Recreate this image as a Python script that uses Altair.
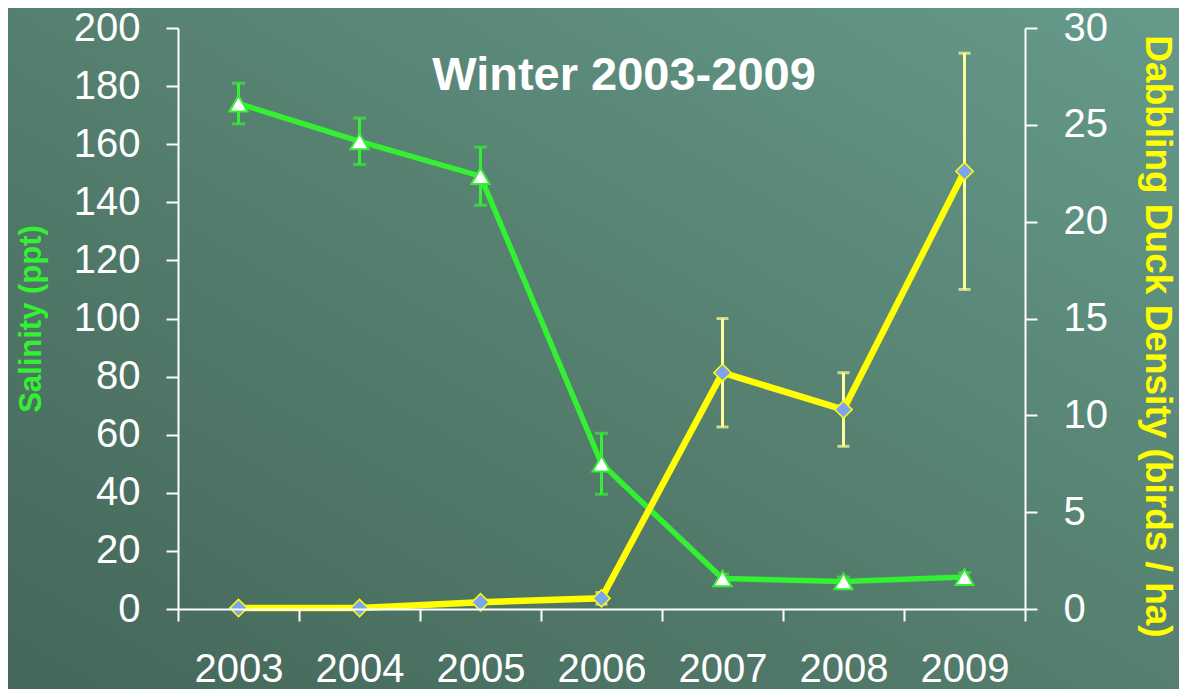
import altair as alt
import pandas as pd

years = ["2003", "2004", "2005", "2006", "2007", "2008", "2009"]
salinity = [174, 161, 149, 50, 10.5, 9.5, 11]
salinity_err = [7, 8, 10, 10.5, 1.5, 1.5, 1.5]
duck = [0.05, 0.05, 0.35, 0.55, 12.2, 10.3, 22.6]
duck_err = [0, 0, 0, 0.3, 2.8, 1.9, 6.1]

W, H = 847, 581
PAD = {"left": 170, "top": 20, "right": 154, "bottom": 80}

df = pd.DataFrame({
    "year": years,
    "sal": salinity,
    "sal_lo": [s - e for s, e in zip(salinity, salinity_err)],
    "sal_hi": [s + e for s, e in zip(salinity, salinity_err)],
    "duck": duck,
    "duck_lo": [max(d - e, 0) for d, e in zip(duck, duck_err)],
    "duck_hi": [d + e for d, e in zip(duck, duck_err)],
})

GREEN = "#33f033"
YELLOW = "#ffff00"
PALE = "#ffff99"

xenc = alt.X("year:O", sort=years, title=None,
             scale=alt.Scale(paddingInner=0, paddingOuter=0),
             axis=alt.Axis(labelAngle=0, tickBand="extent", labelPadding=28,
                           labelFontSize=40, labelFont="Liberation Sans", zindex=2))

sal_scale = alt.Scale(domain=[0, 200], nice=False)
sal_axis = alt.Axis(orient="left", values=list(range(0, 201, 20)),
                    title="Salinity (ppt)", titleColor=GREEN, titleFontSize=31,
                    titleFontWeight="bold", titlePadding=26, labelPadding=26, zindex=2)
duck_scale = alt.Scale(domain=[0, 30], nice=False)
duck_axis = alt.Axis(orient="right", values=list(range(0, 31, 5)),
                     title="Dabbling Duck Density (birds / ha)", titleColor=YELLOW,
                     titleFontSize=37, titleFontWeight="bold", titlePadding=30,
                     titleY=308, labelPadding=26, zindex=2)

base = alt.Chart(df)

bg = alt.Chart(pd.DataFrame({"a": [0]})).mark_rect(
    color=alt.LinearGradient(
        gradient="linear",
        stops=[alt.GradientStop(color="#44675a", offset=0),
               alt.GradientStop(color="#557f6f", offset=0.5),
               alt.GradientStop(color="#659a8a", offset=1)],
        x1=0, y1=1, x2=1, y2=0)
).encode(
    x=alt.value(-PAD["left"]), x2=alt.value(W + PAD["right"]),
    y=alt.value(-PAD["top"]), y2=alt.value(H + PAD["bottom"])
)

sal_line = base.mark_line(color=GREEN, strokeWidth=5.5).encode(
    x=xenc, y=alt.Y("sal:Q", scale=sal_scale, axis=sal_axis))
sal_rule = base.mark_rule(color=GREEN, strokeWidth=3).encode(
    x=xenc, y=alt.Y("sal_lo:Q", scale=sal_scale, axis=sal_axis), y2="sal_hi:Q")
sal_cap_hi = base.mark_tick(color=GREEN, size=13, thickness=3, orient="horizontal").encode(
    x=xenc, y=alt.Y("sal_hi:Q", scale=sal_scale, axis=sal_axis))
sal_cap_lo = base.mark_tick(color=GREEN, size=13, thickness=3, orient="horizontal").encode(
    x=xenc, y=alt.Y("sal_lo:Q", scale=sal_scale, axis=sal_axis))
sal_pts = base.mark_point(shape="triangle-up", size=330, filled=True, fill="white",
                          stroke=GREEN, strokeWidth=2, opacity=1).encode(
    x=xenc, y=alt.Y("sal:Q", scale=sal_scale, axis=sal_axis))
sal_layer = alt.layer(sal_rule, sal_cap_hi, sal_cap_lo, sal_line, sal_pts)

duck_line = base.mark_line(color=YELLOW, strokeWidth=6.5).encode(
    x=xenc, y=alt.Y("duck:Q", scale=duck_scale, axis=duck_axis))
duck_rule = base.mark_rule(color=PALE, strokeWidth=3).encode(
    x=xenc, y=alt.Y("duck_lo:Q", scale=duck_scale, axis=duck_axis), y2="duck_hi:Q")
duck_cap_hi = base.mark_tick(color=PALE, size=12, thickness=3, orient="horizontal").encode(
    x=xenc, y=alt.Y("duck_hi:Q", scale=duck_scale, axis=duck_axis))
duck_cap_lo = base.mark_tick(color=PALE, size=12, thickness=3, orient="horizontal").encode(
    x=xenc, y=alt.Y("duck_lo:Q", scale=duck_scale, axis=duck_axis))
duck_pts = base.mark_point(shape="diamond", size=300, filled=True, fill="#7ea4ee",
                           stroke=YELLOW, strokeWidth=1.5, opacity=1).encode(
    x=xenc, y=alt.Y("duck:Q", scale=duck_scale, axis=duck_axis))
duck_layer = alt.layer(duck_rule, duck_cap_hi, duck_cap_lo, duck_line, duck_pts)

title = alt.Chart(pd.DataFrame({"t": ["Winter 2003-2009"]})).mark_text(
    font="Liberation Sans", fontSize=47, fontWeight="bold", color="white",
    align="center", baseline="middle"
).encode(text="t:N", x=alt.value(446), y=alt.value(48))

chart = alt.layer(bg, sal_layer, duck_layer, title).resolve_scale(
    y="independent"
).properties(
    width=W, height=H, padding=PAD,
    autosize=alt.AutoSizeParams(type="none"),
    background="#527a6b"
).configure_view(stroke=None).configure_axis(
    domainColor="white", domainWidth=2, tickColor="white", tickWidth=2, tickSize=12,
    labelColor="white", labelFont="Liberation Sans", labelFontSize=40, grid=False,
    titleFont="Liberation Sans"
)

chart.save("out.html", embed_options={"renderer": "svg", "actions": False})
